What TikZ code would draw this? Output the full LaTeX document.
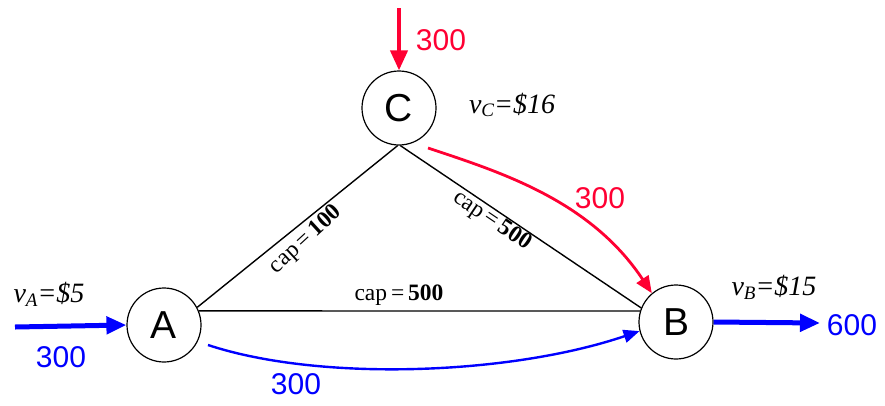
\documentclass[tikz,border=0pt]{standalone}
\usepackage{fontspec}
\setmainfont{Liberation Serif}
\newfontfamily\arialf{Liberation Sans}
\usetikzlibrary{arrows.meta,calc}
\definecolor{myred}{RGB}{255,0,51}
\definecolor{myblue}{RGB}{0,0,255}
\tikzset{
  vert/.style={circle,draw,line width=1.2pt,minimum size=74pt,inner sep=0pt,font=\arialf\fontsize{39}{39}\selectfont},
  edge/.style={line width=1.4pt},
  flowlbl/.style={font=\arialf\fontsize{30}{30}\selectfont,inner sep=0pt},
  caplbl/.style={font=\fontsize{23.5}{23.5}\selectfont,inner sep=1pt},
  vallbl/.style={font=\itshape\fontsize{28}{28}\selectfont,inner sep=0pt},
  redarr/.style={myred,line width=2.8pt,-{Triangle[length=17pt,width=14pt]}},
  bluearr/.style={myblue,line width=2.4pt,-{Triangle[length=16pt,width=13pt]}},
  thickarr/.style={line width=5pt,-{Triangle[length=20pt,width=17pt]}},
}
\newcommand{\vsub}[1]{\raisebox{-0.3ex}{\fontsize{19}{19}\selectfont #1}}
\begin{document}
\begin{tikzpicture}[x=1pt,y=-1pt]
\useasboundingbox (0,0) rectangle (885,405);
\node[vert] (C) at (399,108) {C};
\node[vert] (A) at (164,325) {A};
\node[vert] (B) at (676,322) {B};
% black edges
\draw[edge] (A.28) -- (C.-92);
\draw[edge] (C.-88) -- (B.158);
\draw[edge] (A.22) -- (B.163);
% cap labels
\node[caplbl,rotate=42.7] (c1) at (306,240) {cap\,=\,\textbf{100}};
\node[caplbl,rotate=-34] (c2) at (492,221) {cap\,=\,\textbf{500}};
\node[caplbl] (c3) at (399,295) {cap\,=\,\textbf{500}};
% red flows
\coordinate (ctop) at (399,8);
\draw[myred,line width=4pt,-{Triangle[length=20pt,width=17pt]}] (ctop) -- (C.north);
\node[flowlbl,myred] (r1) at (441,40) {300};
\coordinate (cs) at ($(C)+(29,40)$);
\draw[redarr] (cs) .. controls (500,172) and (590,200) .. (B.130);
\node[flowlbl,myred] (r2) at (600,198) {300};
% blue flows
\coordinate (as) at ($(A)+(44,20)$);
\draw[bluearr] (as) .. controls (320,382) and (510,375) .. (B.-166);
\node[flowlbl,myblue] (b1) at (296,384) {300};
\coordinate (ain) at (15,327);
\draw[thickarr,myblue] (ain) -- (A.west);
\node[flowlbl,myblue] (b2) at (61,357) {300};
\coordinate (bout) at (820,323);
\draw[thickarr,myblue] (B.east) -- (bout);
\node[flowlbl,myblue] (b3) at (852,325) {600};
% values
\node[vallbl] (vA) at (49,294) {v\vsub{A}=\$5};
\node[vallbl] (vB) at (774,287) {v\vsub{B}=\$15};
\node[vallbl] (vC) at (512,105) {v\vsub{C}=\$16};
\end{tikzpicture}
\end{document}
